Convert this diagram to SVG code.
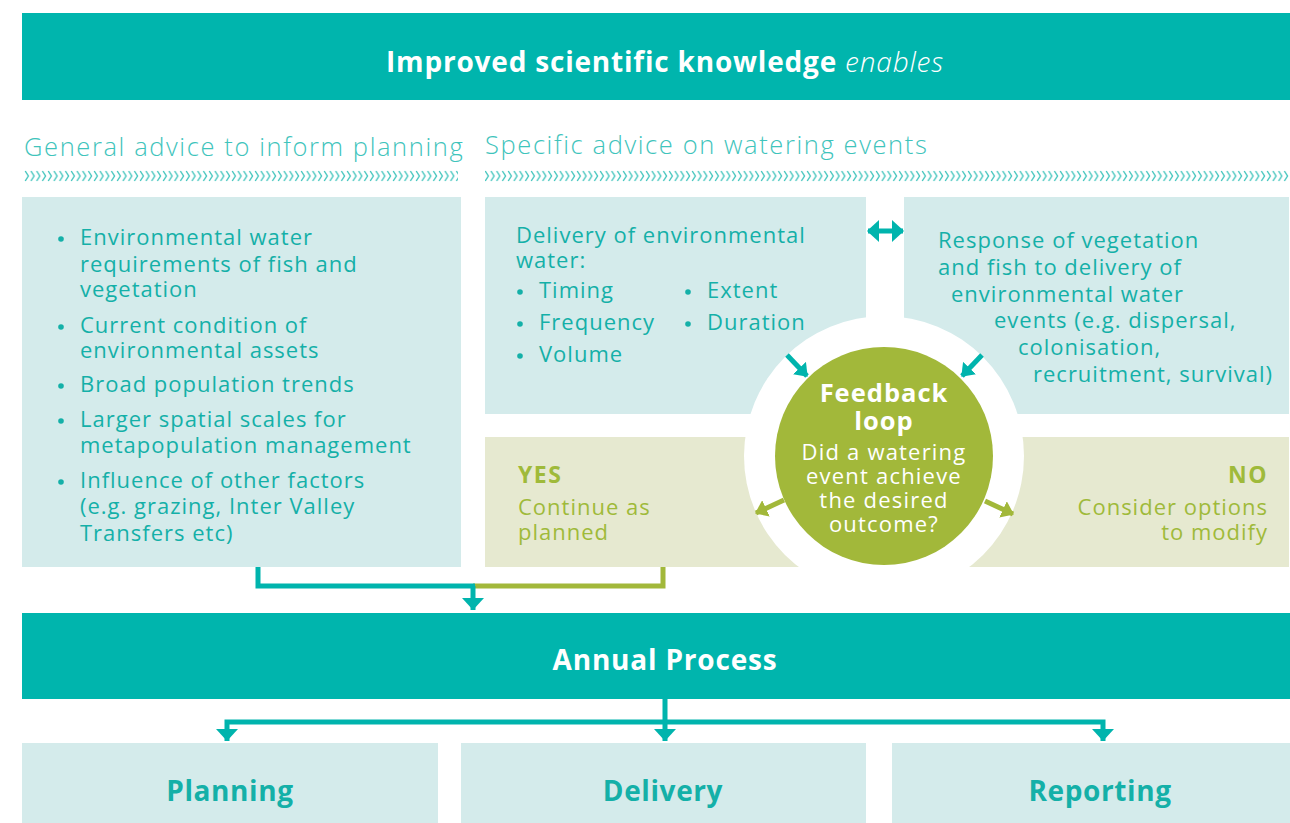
<svg xmlns="http://www.w3.org/2000/svg" width="1290" height="823" viewBox="0 0 1290 823">
  <style>
    text { font-family: "Open Sans", "Liberation Sans", sans-serif; }
    .banner { fill: #00b5ad; }
    .pale { fill: #d4ebeb; }
    .olive { fill: #e6e9d0; }
    .ttl { fill: #ffffff; font-weight: 700; font-size: 28px; letter-spacing: 0.8px; }
    .head { fill: #3fc4bc; font-weight: 300; font-size: 25.5px; letter-spacing: 1.6px; }
    .body { fill: #14b0a8; font-size: 22px; letter-spacing: 1px; }
    .gbody { fill: #9fba3a; font-size: 22px; letter-spacing: 1px; }
    .gbold { fill: #9fba3a; font-size: 23px; font-weight: 700; letter-spacing: 1.5px; }
    .fbold { fill: #ffffff; font-size: 25.5px; font-weight: 700; text-anchor: middle; letter-spacing: 1px; }
    .fbody { fill: #ffffff; font-size: 22px; text-anchor: middle; letter-spacing: 1.2px; }
    .stage { fill: #14b0a8; font-size: 28px; font-weight: 700; text-anchor: middle; letter-spacing: 0.6px; }
    .dot { fill: #14b0a8; }
    .tline { fill: none; stroke: #00b4ad; stroke-width: 5; }
    .gline { fill: none; stroke: #a2b83a; stroke-width: 5; }
  </style>
  <defs>
    <pattern id="chev" patternUnits="userSpaceOnUse" x="24" y="170" width="5.75" height="12">
      <path d="M1.2,1 L4.3,6 L1.2,11" fill="none" stroke="#3fc4bc" stroke-width="1.4"/>
    </pattern>
    <marker id="ahBig" viewBox="0 0 22 12" refX="11" refY="12" markerWidth="22" markerHeight="12" markerUnits="userSpaceOnUse" orient="0">
      <path d="M0,0 L22,0 L11,12 Z" fill="#00b4ad"/>
    </marker>
    <marker id="ahTeal" viewBox="0 0 12 18" refX="11" refY="9" markerWidth="12" markerHeight="18" markerUnits="userSpaceOnUse" orient="auto-start-reverse">
      <path d="M0,0 L12,9 L0,18 Z" fill="#00b4ad"/>
    </marker>
    <marker id="ahDbl" viewBox="0 0 12 22" refX="11" refY="11" markerWidth="12" markerHeight="22" markerUnits="userSpaceOnUse" orient="auto-start-reverse">
      <path d="M0,0 L12,11 L0,22 Z" fill="#00b4ad"/>
    </marker>
    <marker id="ahGreen" viewBox="0 0 12 18" refX="11" refY="9" markerWidth="12" markerHeight="18" markerUnits="userSpaceOnUse" orient="auto">
      <path d="M0,0 L12,9 L0,18 Z" fill="#a2b83a"/>
    </marker>
  </defs>

  <rect width="1290" height="823" fill="#ffffff"/>

  <!-- top banner -->
  <g id="knowledge">
    <rect class="banner" x="22" y="13" width="1268" height="87"/>
    <text class="ttl" x="665" y="72" text-anchor="middle">Improved scientific knowledge <tspan font-weight="300" font-style="italic">enables</tspan></text>
  </g>

  <!-- column headings with chevron rules -->
  <g id="heading-general">
    <text class="head" x="24" y="156">General advice to inform planning</text>
    <rect x="24" y="170" width="434" height="12" fill="url(#chev)"/>
  </g>
  <g id="heading-specific">
    <text class="head" x="485" y="154">Specific advice on watering events</text>
    <rect x="485" y="170" width="804" height="12" fill="url(#chev)"/>
  </g>

  <!-- general advice list -->
  <g id="general-advice">
    <rect class="pale" x="22" y="197" width="439" height="370"/>
    <circle class="dot" cx="61" cy="239" r="2.8"/>
    <circle class="dot" cx="61" cy="327" r="2.8"/>
    <circle class="dot" cx="61" cy="386" r="2.8"/>
    <circle class="dot" cx="61" cy="421" r="2.8"/>
    <circle class="dot" cx="61" cy="482" r="2.8"/>
    <text class="body" x="80" y="245">Environmental water</text>
    <text class="body" x="80" y="272">requirements of fish and</text>
    <text class="body" x="80" y="297">vegetation</text>
    <text class="body" x="80" y="333">Current condition of</text>
    <text class="body" x="80" y="358">environmental assets</text>
    <text class="body" x="80" y="392">Broad population trends</text>
    <text class="body" x="80" y="427">Larger spatial scales for</text>
    <text class="body" x="80" y="453">metapopulation management</text>
    <text class="body" x="80" y="488">Influence of other factors</text>
    <text class="body" x="80" y="514">(e.g. grazing, Inter Valley</text>
    <text class="body" x="80" y="541">Transfers etc)</text>
  </g>

  <!-- delivery box -->
  <g id="delivery-water">
    <rect class="pale" x="485" y="197" width="381" height="217"/>
    <text class="body" x="516" y="243">Delivery of environmental</text>
    <text class="body" x="516" y="268">water:</text>
    <circle class="dot" cx="520" cy="292" r="2.8"/>
    <circle class="dot" cx="520" cy="324" r="2.8"/>
    <circle class="dot" cx="520" cy="356" r="2.8"/>
    <circle class="dot" cx="688" cy="292" r="2.8"/>
    <circle class="dot" cx="688" cy="324" r="2.8"/>
    <text class="body" x="539" y="298">Timing</text>
    <text class="body" x="539" y="330">Frequency</text>
    <text class="body" x="539" y="362">Volume</text>
    <text class="body" x="707" y="298">Extent</text>
    <text class="body" x="707" y="330">Duration</text>
  </g>

  <!-- response box -->
  <g id="response">
    <rect class="pale" x="904" y="197" width="385" height="217"/>
    <text class="body" x="938" y="248">Response of vegetation</text>
    <text class="body" x="938" y="275">and fish to delivery of</text>
    <text class="body" x="951" y="302">environmental water</text>
    <text class="body" x="994" y="328">events (e.g. dispersal,</text>
    <text class="body" x="1018" y="355">colonisation,</text>
    <text class="body" x="1033" y="382">recruitment, survival)</text>
  </g>

  <!-- outcome boxes -->
  <g id="yes">
    <rect class="olive" x="485" y="437" width="400" height="130"/>
    <text class="gbold" x="518" y="483">YES</text>
    <text class="gbody" x="518" y="515">Continue as</text>
    <text class="gbody" x="518" y="540">planned</text>
  </g>
  <g id="no">
    <rect class="olive" x="884" y="437" width="405" height="130"/>
    <text class="gbold" x="1268" y="483" text-anchor="end">NO</text>
    <text class="gbody" x="1268" y="515" text-anchor="end">Consider options</text>
    <text class="gbody" x="1268" y="540" text-anchor="end">to modify</text>
  </g>

  <!-- feedback loop hub -->
  <g id="feedback">
    <circle cx="884" cy="456" r="140" fill="#ffffff"/>
    <rect x="747" y="567" width="280" height="40" fill="#ffffff"/>
    <circle cx="884" cy="456" r="109" fill="#a2b83a"/>
    <text class="fbold" x="884" y="402">Feedback<tspan x="884" dy="28">loop</tspan></text>
    <text class="fbody" x="884" y="460">Did a watering<tspan x="884" dy="24">event achieve</tspan><tspan x="884" dy="24">the desired</tspan><tspan x="884" dy="24">outcome?</tspan></text>
  </g>

  <!-- annual process banner -->
  <g id="annual-process">
    <rect class="banner" x="22" y="613" width="1268" height="86"/>
    <text class="ttl" x="665" y="670" text-anchor="middle" font-size="26" letter-spacing="1">Annual Process</text>
  </g>

  <g id="planning">
    <rect class="pale" x="22" y="743" width="416" height="80"/>
    <text class="stage" x="230" y="801">Planning</text>
  </g>
  <g id="delivery">
    <rect class="pale" x="461" y="743" width="405" height="80"/>
    <text class="stage" x="663" y="801">Delivery</text>
  </g>
  <g id="reporting">
    <rect class="pale" x="892" y="743" width="398" height="80"/>
    <text class="stage" x="1100" y="801">Reporting</text>
  </g>

  <!-- connectors -->
  <g id="connectors">
    <line class="tline" x1="868" y1="231" x2="903" y2="231" stroke-width="4.5" marker-start="url(#ahDbl)" marker-end="url(#ahDbl)"/>
    <line class="tline" x1="787" y1="355" x2="807" y2="376" stroke-width="4.5" marker-end="url(#ahTeal)"/>
    <line class="tline" x1="982" y1="355" x2="962" y2="376" stroke-width="4.5" marker-end="url(#ahTeal)"/>
    <line class="gline" x1="784" y1="500" x2="756" y2="513" stroke-width="4.5" marker-end="url(#ahGreen)"/>
    <line class="gline" x1="985" y1="501" x2="1013" y2="514" stroke-width="4.5" marker-end="url(#ahGreen)"/>

    <path class="gline" d="M663,567 V586 H473"/>
    <path class="tline" d="M258,567 V586 H475"/>
    <line class="tline" x1="473" y1="586" x2="473" y2="610" marker-end="url(#ahBig)"/>

    <path class="tline" stroke-width="4.5" d="M665,699 V722 M227,741 V722 H1103 V741 M665,722 V741"/>
    <line x1="227" y1="740" x2="227" y2="741" stroke="none" marker-end="url(#ahBig)"/>
    <line x1="665" y1="740" x2="665" y2="741" stroke="none" marker-end="url(#ahBig)"/>
    <line x1="1103" y1="740" x2="1103" y2="741" stroke="none" marker-end="url(#ahBig)"/>
  </g>
</svg>
